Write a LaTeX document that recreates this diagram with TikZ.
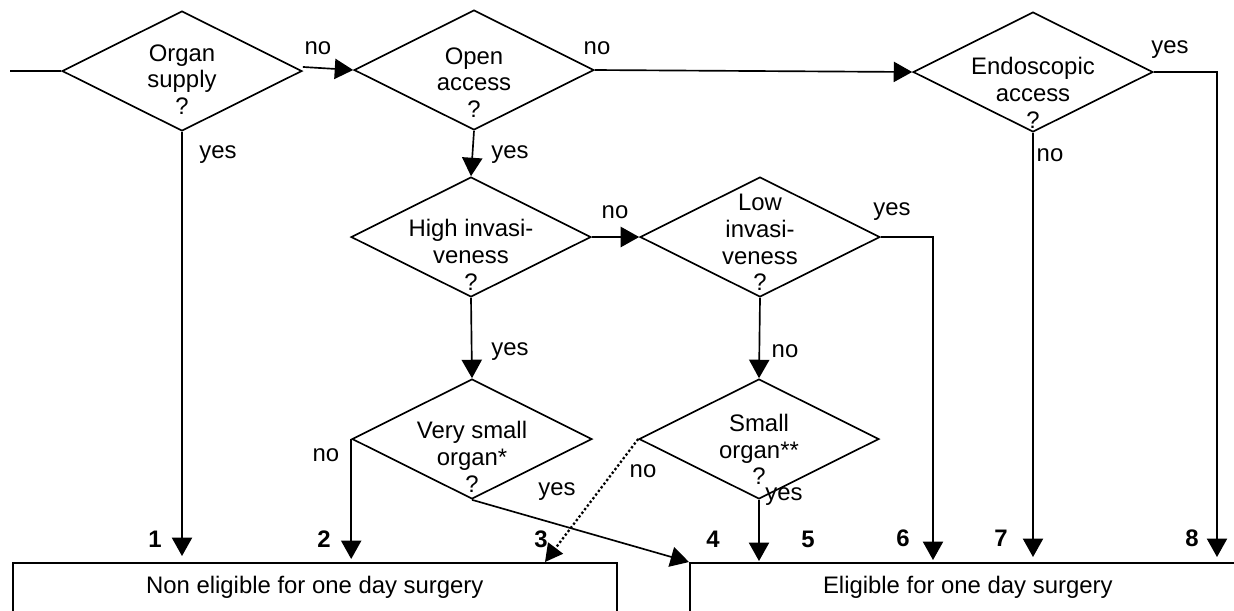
\documentclass[tikz,border=0pt]{standalone}
\usepackage{fontspec}
\setmainfont{Liberation Sans}
\usetikzlibrary{shapes.geometric,arrows.meta,calc}
\begin{document}
\begin{tikzpicture}[x=0.02cm,y=-0.02cm,
  every node/.style={font=\fontsize{13.6}{15.3}\selectfont, inner sep=0pt},
  dec/.style={draw, diamond, aspect=2, minimum width=4.8cm, minimum height=2.4cm, line width=0.95pt},
  dtxt/.style={anchor=north, align=center},
  lbl/.style={anchor=center},
  num/.style={anchor=center, font=\fontsize{13.6}{15.3}\selectfont\bfseries},
  conn/.style={line width=0.95pt},
  arr/.style={conn, -{Triangle[length=10.5pt,width=11.5pt]}},
  dotarr/.style={conn, line width=1.3pt, dash pattern=on 1.3pt off 1.3pt, -{Triangle[length=10pt,width=10.5pt]}},
  outbox/.style={draw, line width=0.95pt, anchor=north west, inner xsep=0pt, inner ysep=4.5pt,
    text height=13.1pt, text depth=25pt}
]
\useasboundingbox (0,0) rectangle (1234,610);

% decisions
\node[dec] (A) at (182,71) {};
\node[dec] (B) at (474,70) {};
\node[dec] (C) at (1033,72) {};
\node[dec] (D) at (471,237) {};
\node[dec] (E) at (760,237) {};
\node[dec] (F) at (472,439) {};
\node[dec] (G) at (759,439) {};

\node[dtxt] (At) at ($(A)+(0,-27)$) {Organ\\supply\\?};
\node[dtxt] (Bt) at ($(B)+(0,-23)$) {Open\\access\\?};
\node[dtxt] (Ct) at ($(C)+(0,-15)$) {Endoscopic\\access\\?};
\node[dtxt] (Dt) at ($(D)+(0,-18)$) {High invasi-\\veness\\?};
\node[dtxt] (Et) at ($(E)+(0,-43.5)$) {Low\\invasi-\\veness\\?};
\node[dtxt] (Ft) at ($(F)+(0,-18)$) {Very small\\organ*\\?};
\node[dtxt] (Gt) at ($(G)+(0,-25.5)$) {Small\\organ**\\?};

% outcome boxes
\node[outbox, minimum width=12.08cm] (N) at (12,562) {Non eligible for one day surgery};
\node[outbox, minimum width=11.12cm] (R) at (689,562) {Eligible for one day surgery};

% end points
\coordinate (start) at (10,71);
\coordinate (e1) at (182,556);
\coordinate (e2) at (356,559);
\coordinate (e3) at (545,562);
\coordinate (e5) at (760,561);
\coordinate (e6) at (933,560);
\coordinate (e7) at (1033,557);
\coordinate (e8) at (1217,557);

% connectors
\draw[conn] (start) -- (A.west);
\draw[arr] ([yshift=2.3pt]A.east) -- (B.west);
\draw[arr] (B.east) -- (C.west);
\draw[arr] (C.east) -| (e8);
\draw[arr] (A.south) -- (e1);
\draw[arr] (B.south) -- (D.north);
\draw[arr] (C.south) -- (e7);
\draw[arr] (D.east) -- (E.west);
\draw[arr] (E.east) -| (e6);
\draw[arr] (D.south) -- (F.north);
\draw[arr] (E.south) -- (G.north);
\draw[arr] (F.west) -- (F.west |- e2);
\draw[arr] (F.south) -- (R.north west);
\draw[dotarr] (G.west) -- (e3);
\draw[arr] (G.south) -- (G.south |- e5);

% labels
\node[lbl] (l1) at (318,48) {no};
\node[lbl] (l2) at (597,48) {no};
\node[lbl] (l3) at (1170,50) {yes};
\node[lbl] (l4) at (218,155) {yes};
\node[lbl] (l5) at (510,155) {yes};
\node[lbl] (l6) at (1050,155) {no};
\node[lbl] (l7) at (615,212) {no};
\node[lbl] (l8) at (892,212) {yes};
\node[lbl] (l9) at (510,352) {yes};
\node[lbl] (l10) at (785,351) {no};
\node[lbl] (l11) at (326,455) {no};
\node[lbl] (l12) at (557,492) {yes};
\node[lbl] (l13) at (643,471) {no};
\node[lbl] (l14) at (784,497) {yes};

% numbers
\node[num] (n1) at (155,539) {1};
\node[num] (n2) at (324,539) {2};
\node[num] (n3) at (541,539) {3};
\node[num] (n4) at (713,539) {4};
\node[num] (n5) at (808,539) {5};
\node[num] (n6) at (903,538) {6};
\node[num] (n7) at (1001,538) {7};
\node[num] (n8) at (1192,538) {8};
\end{tikzpicture}
\end{document}
